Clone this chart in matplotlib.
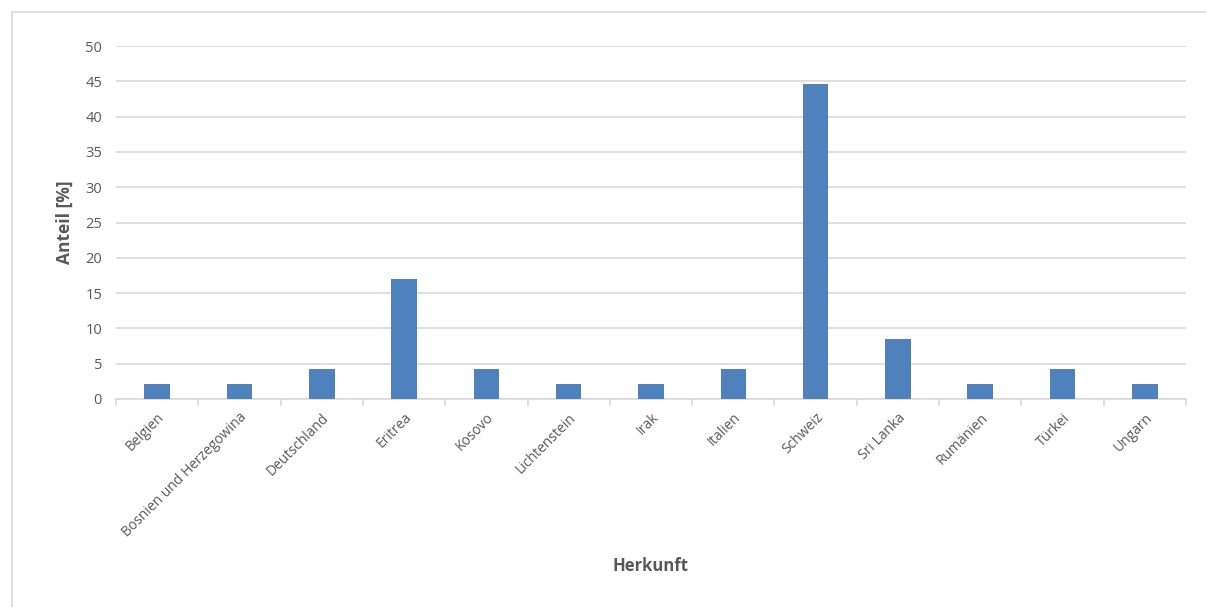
import matplotlib
matplotlib.use("Agg")
import matplotlib.pyplot as plt
from matplotlib.lines import Line2D
import numpy as np

categories = ["Belgien", "Bosnien und Herzegowina", "Deutschland", "Eritrea", "Kosovo",
              "Lichtenstein", "Irak", "Italien", "Schweiz", "Sri Lanka", "Rumänien",
              "Türkei", "Ungarn"]
anteil = [2.13, 2.13, 4.26, 17.02, 4.26, 2.13, 2.13, 4.26, 44.68, 8.51, 2.13, 4.26, 2.13]
y_ticks = [0, 5, 10, 15, 20, 25, 30, 35, 40, 45, 50]

plt.rcParams["font.family"] = ["Open Sans", "DejaVu Sans"]
text_color = "#595959"
grid_color = "#d9d9d9"
bar_color = "#4f81bd"

W, H = 1206, 607
fig = plt.figure(figsize=(W / 100, H / 100), dpi=100)
ax = fig.add_axes([116 / W, (H - 399) / H, (1186 - 116) / W, (399 - 46) / H])

x = np.arange(len(categories))
ax.bar(x, anteil, width=0.31, color=bar_color, zorder=3)

ax.set_xlim(-0.5, len(categories) - 0.5)
ax.set_ylim(0, 50)
ax.set_yticks(y_ticks)
ax.yaxis.grid(True, color=grid_color, linewidth=1.2, zorder=0)
ax.tick_params(axis="y", length=0, labelsize=10.5, labelcolor=text_color, pad=10)

# category labels at bar centres, boundary tick marks between categories
ax.set_xticks(x)
ax.set_xticklabels(categories, rotation=45, ha="right", rotation_mode="anchor",
                   fontsize=10, color=text_color)
ax.tick_params(axis="x", which="major", length=0, pad=8)
ax.set_xticks(np.arange(-0.5, len(categories)), minor=True)
ax.tick_params(axis="x", which="minor", length=5, color=grid_color, width=1.2)

for side in ["top", "right", "left"]:
    ax.spines[side].set_visible(False)
ax.spines["bottom"].set_color(grid_color)
ax.spines["bottom"].set_linewidth(1.2)

fig.text(65 / W, 1 - 222 / H, "Anteil [%]", fontsize=12.5, fontweight="bold",
         color=text_color, ha="center", va="center", rotation=90)
fig.text(651 / W, 1 - 566 / H, "Herkunft", fontsize=12, fontweight="bold",
         color=text_color, ha="center", va="center")

# chart-area frame
fig.add_artist(Line2D([11.5 / W, 11.5 / W], [0, 1 - 11.5 / H], color=grid_color,
                      linewidth=1.2, transform=fig.transFigure))
fig.add_artist(Line2D([11.5 / W, 1], [1 - 11.5 / H, 1 - 11.5 / H], color=grid_color,
                      linewidth=1.2, transform=fig.transFigure))

fig.savefig("out.png", dpi=100, facecolor="white")
